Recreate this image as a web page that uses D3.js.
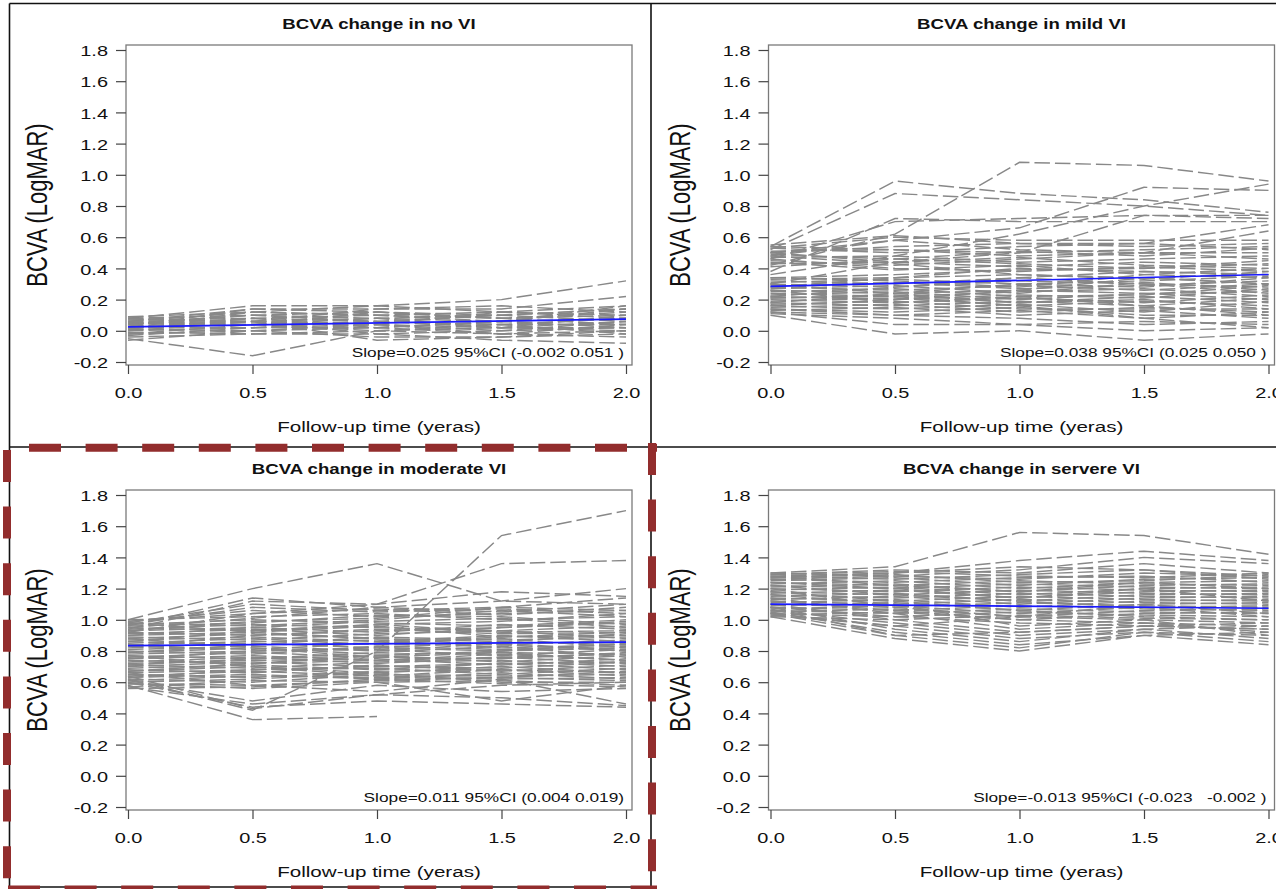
<!DOCTYPE html>
<html>
<head>
<meta charset="utf-8">
<script src="https://cdn.jsdelivr.net/npm/d3@7"></script>
<style>
  html, body { margin: 0; padding: 0; background: #fff; }
  svg { display: block; }
</style>
</head>
<body>
<script>
// visit times (years) and axis ticks
const visits = [0, 0.5, 1.0, 1.5, 2.0];
const xTicks = [0, 0.5, 1.0, 1.5, 2.0];
const yTicks = [-0.2, 0, 0.2, 0.4, 0.6, 0.8, 1.0, 1.2, 1.4, 1.6, 1.8];

const titles = [
  "BCVA change in no VI",
  "BCVA change in mild VI",
  "BCVA change in moderate VI",
  "BCVA change in servere VI"
];
const slopeNotes = [
  "Slope=0.025 95%CI (-0.002 0.051 )",
  "Slope=0.038 95%CI (0.025 0.050 )",
  "Slope=0.011 95%CI (0.004 0.019)",
  "Slope=-0.013 95%CI (-0.023   -0.002 )"
];
// mean trend (blue line): value at baseline and yearly slope
const fitIntercept = [0.025, 0.285, 0.835, 1.10];
const fitSlope = [0.025, 0.038, 0.011, -0.013];

// individual BCVA (LogMAR) at each visit, one row per eye
const noVI = [
  [0.08, 0.16, 0.16, 0.20, 0.32],
  [0.06, 0.14, 0.14, 0.14, 0.22],
  [0.09, 0.12, 0.16, 0.12, 0.16],
  [0.08, 0.10, 0.12, 0.10, 0.14],
  [0.06, 0.12, 0.10, 0.08, 0.12],
  [0.07, 0.08, 0.10, 0.12, 0.10],
  [0.05, 0.06, 0.08, 0.06, 0.14],
  [0.04, 0.10, 0.06, 0.04, 0.08],
  [0.05, 0.04, 0.08, 0.10, 0.06],
  [0.03, 0.06, 0.04, 0.02, 0.10],
  [0.02, 0.02, 0.06, 0.04, 0.04],
  [0.04, 0.08, 0.02, 0.06, 0.02],
  [0.01, 0.00, 0.04, 0.00, 0.06],
  [0.02, 0.04, 0.00, 0.02, 0.00],
  [0.00, 0.02, 0.02, -0.02, 0.04],
  [0.00, 0.06, -0.02, 0.00, 0.02],
  [-0.01, -0.02, 0.00, 0.04, -0.02],
  [-0.02, 0.00, -0.04, -0.04, 0.00],
  [-0.03, 0.02, 0.04, -0.02, -0.04],
  [-0.04, -0.02, -0.02, -0.06, -0.08],
  [-0.05, -0.16, 0.00, -0.02, 0.00],
  [0.02, 0.06, -0.06, -0.04, -0.02],
  [-0.06, 0.00, 0.02, 0.06, 0.08],
  [0.03, 0.14, 0.12, 0.08, 0.10],
  [0.07, 0.06, 0.14, 0.16, 0.12],
  [0.01, 0.08, 0.06, 0.10, 0.14],
  [0.05, 0.10, 0.08, 0.02, 0.06],
  [0.02, 0.12, 0.10, 0.06, 0.16],
  [0.06, 0.04, 0.12, 0.08, 0.04],
  [-0.02, 0.04, 0.06, 0.02, 0.02],
  [0.08, 0.06, 0.04, 0.12, 0.08]
];

const mildVI = [
  [0.54, 0.96, 0.88, 0.84, 0.76],
  [0.52, 0.88, 0.84, 0.80, 0.74],
  [0.42, 0.62, 1.08, 1.06, 0.96],
  [0.50, 0.58, 0.66, 0.92, 0.90],
  [0.38, 0.72, 0.70, 0.70, 0.70],
  [0.46, 0.70, 0.72, 0.74, 0.72],
  [0.30, 0.44, 0.50, 0.74, 0.74],
  [0.36, 0.48, 0.62, 0.80, 0.94],
  [0.50, 0.54, 0.56, 0.56, 0.68],
  [0.48, 0.58, 0.52, 0.50, 0.64],
  [0.53, 0.60, 0.58, 0.58, 0.58],
  [0.55, 0.61, 0.56, 0.54, 0.56],
  [0.10, -0.02, 0.00, -0.06, -0.02],
  [0.12, 0.04, 0.04, 0.00, 0.02],
  [0.11, 0.08, 0.04, 0.06, 0.04],
  [0.21, 0.22, 0.16, 0.08, 0.02],
  [0.14, 0.10, 0.08, 0.04, 0.06],
  [0.54, 0.52, 0.50, 0.52, 0.54],
  [0.53, 0.50, 0.54, 0.56, 0.52],
  [0.51, 0.52, 0.48, 0.50, 0.50],
  [0.49, 0.46, 0.51, 0.48, 0.53],
  [0.47, 0.48, 0.44, 0.46, 0.48],
  [0.45, 0.42, 0.46, 0.50, 0.46],
  [0.43, 0.44, 0.41, 0.44, 0.42],
  [0.41, 0.46, 0.43, 0.40, 0.45],
  [0.50, 0.44, 0.47, 0.42, 0.40],
  [0.46, 0.40, 0.38, 0.41, 0.38],
  [0.44, 0.39, 0.42, 0.36, 0.34],
  [0.48, 0.43, 0.36, 0.34, 0.30],
  [0.34, 0.36, 0.39, 0.40, 0.43],
  [0.33, 0.34, 0.36, 0.33, 0.38],
  [0.32, 0.30, 0.34, 0.38, 0.36],
  [0.31, 0.33, 0.30, 0.32, 0.35],
  [0.30, 0.28, 0.32, 0.30, 0.28],
  [0.29, 0.31, 0.27, 0.29, 0.32],
  [0.28, 0.26, 0.29, 0.26, 0.30],
  [0.27, 0.29, 0.24, 0.31, 0.26],
  [0.26, 0.24, 0.26, 0.24, 0.25],
  [0.25, 0.27, 0.22, 0.23, 0.29],
  [0.24, 0.22, 0.25, 0.27, 0.22],
  [0.23, 0.25, 0.20, 0.24, 0.20],
  [0.22, 0.20, 0.23, 0.21, 0.27],
  [0.21, 0.23, 0.18, 0.22, 0.18],
  [0.20, 0.18, 0.21, 0.18, 0.23],
  [0.19, 0.21, 0.16, 0.19, 0.16],
  [0.18, 0.16, 0.19, 0.16, 0.21],
  [0.17, 0.19, 0.14, 0.14, 0.14],
  [0.16, 0.14, 0.17, 0.12, 0.19],
  [0.15, 0.17, 0.12, 0.15, 0.12],
  [0.14, 0.12, 0.15, 0.10, 0.10],
  [0.13, 0.15, 0.10, 0.13, 0.08],
  [0.12, 0.10, 0.13, 0.08, 0.12],
  [0.34, 0.32, 0.28, 0.36, 0.40],
  [0.28, 0.34, 0.40, 0.38, 0.36],
  [0.22, 0.28, 0.34, 0.30, 0.24],
  [0.18, 0.24, 0.30, 0.28, 0.34],
  [0.16, 0.20, 0.26, 0.34, 0.30],
  [0.26, 0.18, 0.22, 0.16, 0.10],
  [0.30, 0.24, 0.18, 0.20, 0.14]
];

const moderateVI = [
  [1.00, 1.02, 1.04, 1.00, 1.02],
  [0.99, 1.06, 1.02, 1.04, 1.06],
  [0.98, 0.96, 1.00, 1.06, 1.02],
  [0.97, 1.00, 0.98, 0.96, 1.00],
  [0.96, 0.98, 1.03, 1.02, 0.97],
  [0.95, 0.93, 0.97, 0.99, 1.04],
  [0.94, 0.97, 0.95, 0.93, 0.96],
  [0.93, 0.95, 0.92, 0.97, 0.94],
  [0.92, 0.90, 0.94, 0.91, 0.92],
  [0.91, 0.94, 0.90, 0.95, 0.99],
  [0.90, 0.92, 0.96, 0.89, 0.90],
  [0.89, 0.87, 0.91, 0.93, 0.88],
  [0.88, 0.91, 0.88, 0.86, 0.91],
  [0.87, 0.89, 0.86, 0.90, 0.86],
  [0.86, 0.84, 0.89, 0.87, 0.89],
  [0.85, 0.88, 0.84, 0.84, 0.87],
  [0.84, 0.86, 0.87, 0.82, 0.84],
  [0.83, 0.81, 0.85, 0.88, 0.82],
  [0.82, 0.85, 0.82, 0.80, 0.85],
  [0.81, 0.83, 0.80, 0.85, 0.80],
  [0.80, 0.78, 0.83, 0.81, 0.83],
  [0.79, 0.82, 0.78, 0.79, 0.78],
  [0.78, 0.80, 0.81, 0.77, 0.81],
  [0.77, 0.75, 0.79, 0.83, 0.76],
  [0.76, 0.79, 0.76, 0.75, 0.79],
  [0.75, 0.77, 0.74, 0.78, 0.74],
  [0.74, 0.72, 0.77, 0.73, 0.77],
  [0.73, 0.76, 0.72, 0.76, 0.72],
  [0.72, 0.74, 0.75, 0.71, 0.75],
  [0.71, 0.69, 0.73, 0.74, 0.70],
  [0.70, 0.73, 0.70, 0.69, 0.73],
  [0.69, 0.71, 0.68, 0.72, 0.68],
  [0.68, 0.66, 0.71, 0.67, 0.71],
  [0.67, 0.70, 0.66, 0.70, 0.66],
  [0.66, 0.68, 0.69, 0.65, 0.69],
  [0.65, 0.63, 0.67, 0.68, 0.64],
  [0.64, 0.67, 0.64, 0.63, 0.67],
  [0.63, 0.65, 0.62, 0.66, 0.62],
  [0.62, 0.60, 0.65, 0.64, 0.65],
  [0.61, 0.64, 0.63, 0.62, 0.63],
  [0.60, 0.62, 0.66, 0.60, 0.60],
  [0.59, 0.58, 0.61, 0.63, 0.61],
  [0.57, 0.61, 0.60, 0.61, 0.58],
  [0.56, 0.57, 0.62, 0.59, 0.57],
  [0.99, 1.04, 1.07, 1.03, 1.08],
  [0.97, 1.08, 1.05, 1.07, 1.04],
  [0.95, 1.01, 1.08, 1.05, 1.10],
  [0.93, 0.99, 1.01, 1.08, 1.06],
  [0.90, 0.95, 0.99, 1.01, 0.95],
  [0.86, 0.93, 0.97, 0.92, 0.93],
  [0.83, 0.90, 0.93, 0.95, 0.98],
  [0.79, 0.84, 0.85, 0.89, 0.92],
  [0.75, 0.80, 0.82, 0.86, 0.84],
  [0.71, 0.75, 0.77, 0.80, 0.82],
  [0.67, 0.72, 0.74, 0.76, 0.78],
  [0.63, 0.68, 0.70, 0.72, 0.73],
  [0.98, 0.92, 0.88, 0.84, 0.80],
  [0.88, 0.82, 0.76, 0.79, 0.74],
  [0.77, 0.70, 0.64, 0.68, 0.66],
  [1.00, 1.20, 1.36, 1.12, 1.10],
  [0.62, 0.42, 0.80, 1.54, 1.70],
  [0.92, 1.04, 1.10, 1.36, 1.38],
  [0.96, 1.14, 1.08, 1.12, 1.20],
  [0.94, 1.12, 1.10, 1.18, 1.15],
  [0.98, 1.10, 1.06, 1.08, 1.14],
  [0.58, 0.36, 0.38, null, null],
  [0.60, 0.44, 0.48, 0.46, 0.44],
  [0.57, 0.46, 0.52, 0.50, 0.45],
  [0.61, 0.48, 0.58, 0.54, 0.56],
  [0.59, 0.56, 0.60, 0.48, 0.58],
  [0.64, 0.43, 0.52, 0.58, 0.60],
  [0.66, 0.58, 0.54, 0.62, 0.46]
];

const severeVI = [
  [1.30, 1.28, 1.26, 1.30, 1.28],
  [1.29, 1.31, 1.28, 1.27, 1.30],
  [1.28, 1.26, 1.29, 1.32, 1.26],
  [1.27, 1.29, 1.24, 1.25, 1.29],
  [1.26, 1.24, 1.27, 1.28, 1.24],
  [1.25, 1.27, 1.22, 1.26, 1.27],
  [1.24, 1.22, 1.25, 1.23, 1.22],
  [1.23, 1.25, 1.20, 1.24, 1.25],
  [1.22, 1.20, 1.23, 1.21, 1.20],
  [1.21, 1.23, 1.18, 1.22, 1.23],
  [1.20, 1.18, 1.21, 1.19, 1.18],
  [1.19, 1.21, 1.16, 1.20, 1.21],
  [1.18, 1.16, 1.19, 1.17, 1.16],
  [1.17, 1.19, 1.14, 1.18, 1.19],
  [1.16, 1.14, 1.17, 1.15, 1.14],
  [1.15, 1.17, 1.12, 1.16, 1.17],
  [1.14, 1.12, 1.15, 1.13, 1.12],
  [1.13, 1.15, 1.10, 1.14, 1.15],
  [1.12, 1.10, 1.13, 1.11, 1.10],
  [1.11, 1.13, 1.08, 1.12, 1.13],
  [1.10, 1.08, 1.11, 1.09, 1.08],
  [1.09, 1.11, 1.06, 1.10, 1.11],
  [1.08, 1.06, 1.09, 1.07, 1.06],
  [1.07, 1.09, 1.04, 1.08, 1.09],
  [1.06, 1.04, 1.07, 1.05, 1.04],
  [1.05, 1.07, 1.02, 1.06, 1.07],
  [1.04, 1.02, 1.05, 1.03, 1.02],
  [1.03, 1.05, 1.00, 1.04, 1.05],
  [1.02, 1.00, 1.03, 1.01, 1.00],
  [1.12, 1.06, 1.00, 0.98, 0.96],
  [1.16, 1.10, 0.96, 1.00, 0.98],
  [1.08, 1.02, 0.98, 0.96, 0.94],
  [1.14, 1.04, 0.94, 0.98, 0.92],
  [1.10, 1.00, 0.92, 0.96, 0.98],
  [1.06, 0.98, 0.90, 0.94, 0.96],
  [1.20, 1.08, 1.02, 1.10, 1.04],
  [1.04, 0.96, 1.02, 1.00, 0.90],
  [1.18, 1.12, 1.06, 1.02, 1.00],
  [1.22, 1.16, 1.12, 1.08, 1.02],
  [1.24, 1.20, 1.14, 1.20, 1.12],
  [1.28, 1.22, 1.18, 1.24, 1.20],
  [1.30, 1.34, 1.56, 1.54, 1.42],
  [1.28, 1.30, 1.38, 1.44, 1.38],
  [1.26, 1.28, 1.32, 1.40, 1.36],
  [1.29, 1.32, 1.30, 1.36, 1.30],
  [1.27, 1.30, 1.34, 1.32, 1.28],
  [1.02, 0.88, 0.80, 0.90, 0.84],
  [1.04, 0.90, 0.82, 0.92, 0.86],
  [1.05, 0.92, 0.84, 0.90, 0.92],
  [1.08, 0.94, 0.86, 0.94, 0.88],
  [1.03, 0.96, 0.88, 0.92, 0.90],
  [1.07, 0.90, 0.92, 0.96, 0.94]
];

const W = 1276, H = 889;
const SX = 1.33; // the original picture is stretched horizontally
const FONT = "'Liberation Sans', Arial, Helvetica, sans-serif";

const svg = d3.select("body").append("svg")
  .attr("width", W).attr("height", H);
svg.append("rect").attr("width", W).attr("height", H).attr("fill", "#fff");

const panels = [
  { data: noVI, ox: 0, oy: 0 },
  { data: mildVI, ox: 642.5, oy: 0 },
  { data: moderateVI, ox: 0, oy: 445 },
  { data: severeVI, ox: 642.5, oy: 445 }
];

// plot frame inside each panel
const fL = 126, fR = 632, fT = 45, fB = 365;
const x = d3.scaleLinear().domain([0, 2]).range([128, 626]);
const y = d3.scaleLinear().domain([-0.2, 1.8]).range([362, 50]);

const line = d3.line()
  .defined(d => d[1] != null)
  .x(d => x(d[0]))
  .y(d => y(d[1]));

panels.forEach((p, i) => {
  const g = svg.append("g").attr("transform", `translate(${p.ox},${p.oy})`);

  // spaghetti lines
  g.append("g").selectAll("path")
    .data(p.data)
    .join("path")
    .attr("d", d => line(d.map((v, k) => [visits[k], v])))
    .attr("fill", "none")
    .attr("stroke", "#888")
    .attr("stroke-width", 1.45)
    .attr("stroke-dasharray", "15.5 5");

  // mean trend
  const a = fitIntercept[i], b = fitSlope[i];
  g.append("path")
    .attr("d", line([[0, a], [2, a + 2 * b]]))
    .attr("fill", "none")
    .attr("stroke", "#1a1aff")
    .attr("stroke-width", 1.7);

  // frame
  g.append("rect")
    .attr("x", fL).attr("y", fT)
    .attr("width", fR - fL).attr("height", fB - fT)
    .attr("fill", "none")
    .attr("stroke", "#7a7a7a")
    .attr("stroke-width", 1.3);

  // y axis
  const ya = g.append("g")
    .attr("transform", `translate(${fL},0)`)
    .call(d3.axisLeft(y).tickValues(yTicks).tickFormat(d => d.toFixed(1))
      .tickSize(10).tickSizeOuter(0));
  ya.select(".domain").remove();
  ya.selectAll("line").attr("stroke", "#444").attr("stroke-width", 1.2);
  ya.selectAll("text")
    .attr("x", -18 / SX)
    .attr("dy", "0.38em")
    .attr("transform", `scale(${SX},1)`)
    .attr("fill", "#111")
    .style("font-family", FONT)
    .style("font-size", "15px");

  // x axis
  const xa = g.append("g")
    .attr("transform", `translate(0,${fB})`)
    .call(d3.axisBottom(x).tickValues(xTicks).tickFormat(d => d.toFixed(1))
      .tickSize(9).tickSizeOuter(0));
  xa.select(".domain").remove();
  xa.selectAll("line").attr("stroke", "#444").attr("stroke-width", 1.2);
  xa.selectAll("text")
    .attr("y", 33)
    .attr("dy", 0)
    .attr("transform", `scale(${SX},1)`)
    .attr("fill", "#111")
    .style("font-family", FONT)
    .style("font-size", "15px");

  const cx = (fL + fR) / 2;

  // title
  g.append("text")
    .attr("transform", `translate(${cx},29) scale(${SX},1)`)
    .attr("text-anchor", "middle")
    .style("font-family", FONT)
    .style("font-size", "14px")
    .style("font-weight", "bold")
    .attr("fill", "#111")
    .text(titles[i]);

  // axis labels
  g.append("text")
    .attr("transform", `translate(${cx},432) scale(${SX},1)`)
    .attr("text-anchor", "middle")
    .style("font-family", FONT)
    .style("font-size", "15.5px")
    .attr("fill", "#111")
    .text("Follow-up time (yeras)");

  g.append("text")
    .attr("transform", `translate(47,${(fT + fB) / 2}) scale(${SX},1) rotate(-90)`)
    .attr("text-anchor", "middle")
    .style("font-family", FONT)
    .style("font-size", "22px")
    .attr("fill", "#111")
    .text("BCVA (LogMAR)");

  // slope note
  g.append("text")
    .attr("transform", `translate(${fR - 8},357) scale(${SX},1)`)
    .attr("text-anchor", "end")
    .style("font-family", FONT)
    .style("font-size", "13px")
    .style("white-space", "pre")
    .attr("fill", "#111")
    .text(slopeNotes[i]);
});

// panel borders
const border = svg.append("g").attr("stroke", "#111").attr("stroke-width", 1.6);
border.append("line").attr("x1", 9.5).attr("x2", W).attr("y1", 3.5).attr("y2", 3.5);
border.append("line").attr("x1", 9.5).attr("x2", W).attr("y1", 447).attr("y2", 447);
border.append("line").attr("x1", 9.5).attr("x2", 9.5).attr("y1", 3.5).attr("y2", 887);
border.append("line").attr("x1", 651).attr("x2", 651).attr("y1", 3.5).attr("y2", H);
border.append("line").attr("x1", 9.5).attr("x2", 651).attr("y1", 887).attr("y2", 887);

// red dashed highlight around the moderate VI panel
const hl = svg.append("g")
  .attr("stroke", "#922d2d")
  .attr("stroke-width", 8)
  .attr("stroke-dasharray", "32 24.6");
hl.append("line").attr("x1", 29).attr("x2", 657).attr("y1", 447.7).attr("y2", 447.7);
hl.append("line").attr("x1", 8).attr("x2", 657).attr("y1", 889.5).attr("y2", 889.5);
hl.append("line").attr("x1", 7).attr("x2", 7).attr("y1", 450).attr("y2", H);
hl.append("line").attr("x1", 652).attr("x2", 652).attr("y1", 443).attr("y2", H);
</script>
</body>
</html>
